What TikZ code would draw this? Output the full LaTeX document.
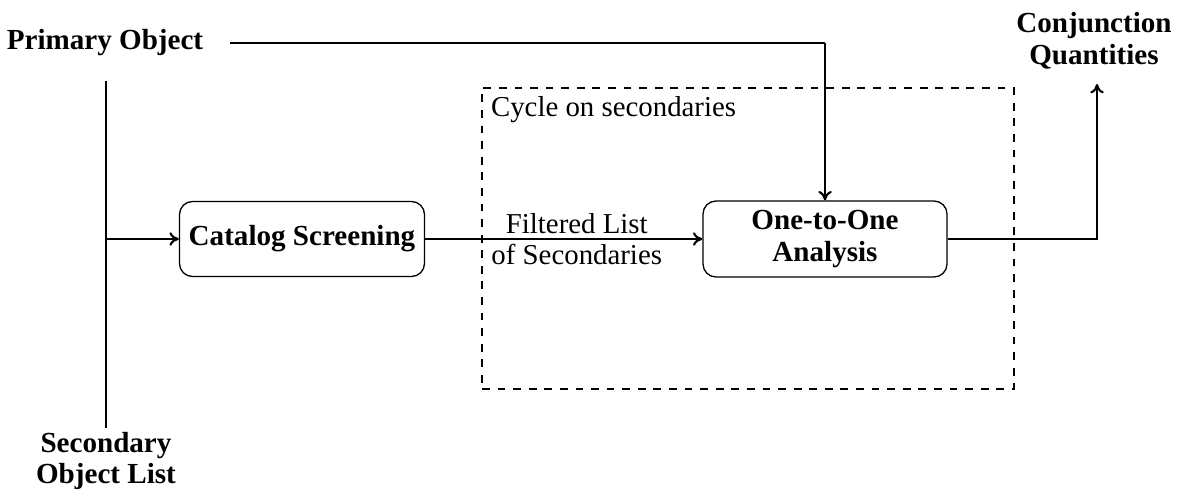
\documentclass[tikz,border=0pt]{standalone}
\usepackage{fontspec}
\setmainfont{Liberation Serif}
\usetikzlibrary{arrows.meta}

\tikzset{
  plaintext/.style={font=\fontsize{11.1pt}{12pt}\selectfont},
  boldtext/.style={font=\fontsize{11.2pt}{12.3pt}\selectfont\bfseries},
  procbox/.style={draw, rounded corners=5pt, line width=0.5pt, align=center,
                  boldtext, inner sep=0pt},
  iolabel/.style={align=center, boldtext, inner sep=2pt},
  flow/.style={line width=0.8pt},
  flowarrow/.style={flow, -{To[length=3.6pt,width=5.2pt]}},
  cyclebox/.style={draw, dashed, line width=0.4pt},
}

\begin{document}
\begin{tikzpicture}[x=0.385pt, y=-0.385pt, plaintext]
  \useasboundingbox (0,0) rectangle (1179,492);

  % inputs and output
  \node[iolabel] (prim) at (105,43) {Primary Object};
  \node[iolabel] (sec)  at (106,461) {Secondary\\Object List};
  \node[iolabel] (conj) at (1094,41) {Conjunction\\Quantities};

  % processing steps
  \node[procbox, minimum width=245*0.385pt, minimum height=75*0.385pt]
        (cat) at (302,239) {Catalog Screening};
  \node[procbox, minimum width=244*0.385pt, minimum height=76*0.385pt]
        (one) at (825,239) {One-to-One\\Analysis};

  % loop over the secondary objects
  \node[cyclebox, minimum width=532*0.385pt, minimum height=301*0.385pt]
        (cycle) at (748,238.5) {};
  \node[plaintext, anchor=north west, inner sep=0pt] (cyclelbl)
        at ([xshift=3.5pt,yshift=-3.3pt]cycle.north west) {Cycle on secondaries};

  % connection points
  \coordinate (ptop)  at (230,43);
  \coordinate (vtop)  at (106,81);
  \coordinate (vbot)  at (106,428);
  \coordinate (ctip)  at (1097,84);

  % primary object feeds the one-to-one analysis
  \draw[flow] (prim.east -| ptop) -- (ptop -| one.north);
  \draw[flowarrow] (ptop -| one.north) -- (one.north);

  % catalogue input line and branch into the screening
  \draw[flow] (vtop) -- (vbot);
  \draw[flowarrow] (vtop |- cat.west) -- (cat.west);

  % screening output
  \draw[flowarrow] (cat.east) -- node[plaintext, align=center, xshift=5pt] (filt)
        {Filtered List\\of Secondaries} (one.west);

  % results
  \draw[flowarrow] (one.east) -| (ctip);
\end{tikzpicture}
\end{document}
